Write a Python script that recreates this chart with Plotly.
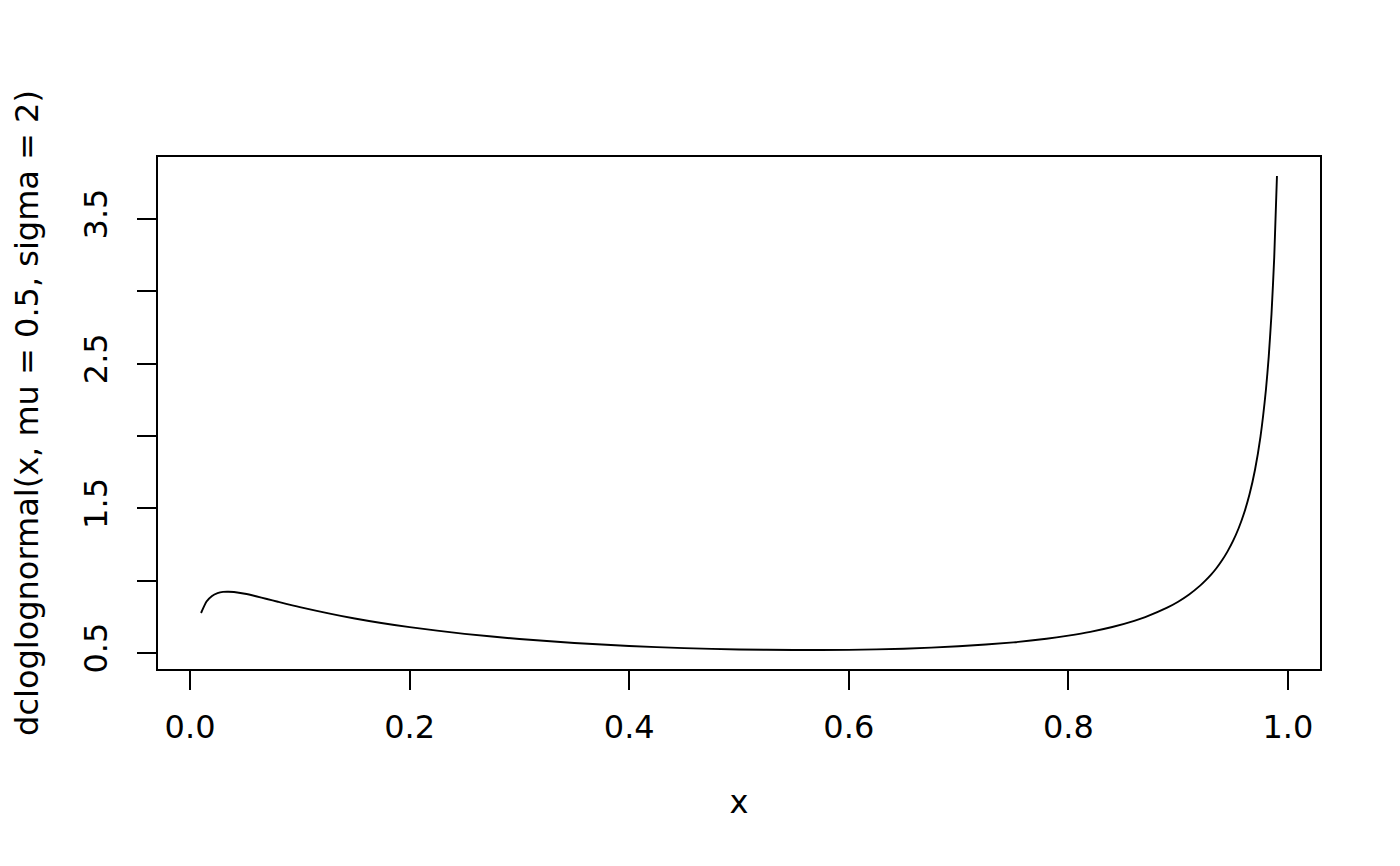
import plotly.graph_objects as go

# values
x_vals = [0.01, 0.015, 0.02, 0.025, 0.03, 0.035, 0.04, 0.05, 0.06, 0.07, 0.08, 0.10,
          0.15, 0.20, 0.25, 0.30, 0.35, 0.40, 0.45, 0.50, 0.55, 0.60, 0.65, 0.70,
          0.75, 0.78, 0.80, 0.82, 0.84, 0.86, 0.87, 0.89, 0.90, 0.91, 0.92, 0.925,
          0.93, 0.935, 0.94, 0.945, 0.95, 0.955, 0.96, 0.965, 0.97, 0.975, 0.98,
          0.9825, 0.985, 0.9875, 0.99]
y_vals = [0.776, 0.855, 0.894, 0.913, 0.922, 0.923, 0.921, 0.909, 0.892, 0.873, 0.854, 0.817,
          0.738, 0.678, 0.632, 0.596, 0.569, 0.548, 0.533, 0.524, 0.520, 0.521, 0.529, 0.546,
          0.573, 0.598, 0.620, 0.646, 0.679, 0.722, 0.748, 0.813, 0.854, 0.904, 0.965, 1.001,
          1.041, 1.087, 1.140, 1.202, 1.274, 1.360, 1.465, 1.596, 1.766, 1.995, 2.322,
          2.548, 2.839, 3.232, 3.796]

x_ticks = [0.0, 0.2, 0.4, 0.6, 0.8, 1.0]
x_tick_labels = ["0.0", "0.2", "0.4", "0.6", "0.8", "1.0"]
y_ticks = [0.5, 1.0, 1.5, 2.0, 2.5, 3.0, 3.5]
y_tick_labels = ["0.5", "", "1.5", "", "2.5", "", "3.5"]

x_title = "x"
y_title = "dcloglognormal(x, mu = 0.5, sigma = 2)"

fig = go.Figure()
fig.add_trace(go.Scatter(x=x_vals, y=y_vals, mode="lines",
                         line=dict(color="black", width=1.9, shape="spline", smoothing=0.5),
                         showlegend=False, hoverinfo="skip"))

font = dict(family="DejaVu Sans", size=32, color="black")

fig.update_layout(
    width=1400, height=866,
    margin=dict(l=150, r=88, t=149, b=205, autoexpand=False),
    paper_bgcolor="white", plot_bgcolor="white",
    font=font,
    xaxis=dict(range=[-0.0292, 1.0292], tickvals=x_ticks, ticktext=x_tick_labels,
               ticks="outside", ticklen=19, tickwidth=1.7, tickcolor="black",
               showline=True, mirror=True, linecolor="black", linewidth=1.7,
               showgrid=False, zeroline=False, tickfont=font, ticklabelstandoff=10,
               automargin=False,
               title=dict(text=x_title, font=font, standoff=45)),
    yaxis=dict(range=[0.389, 3.927], tickvals=y_ticks, ticktext=y_tick_labels,
               ticks="outside", ticklen=19, tickwidth=1.7, tickcolor="black",
               showline=True, mirror=True, linecolor="black", linewidth=1.7,
               showgrid=False, zeroline=False, tickfont=font, tickangle=-90,
               ticklabelstandoff=17, automargin=False,
               title=dict(text=y_title, font=font, standoff=30)),
)

fig.write_html("out.html")
